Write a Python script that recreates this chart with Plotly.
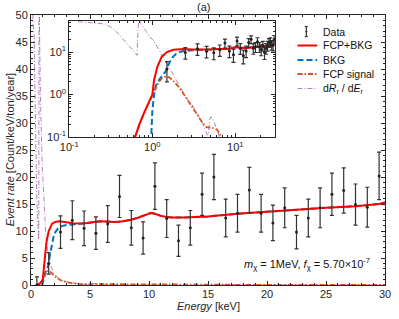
import plotly.graph_objects as go

# ---------------- data ----------------
data_E = [0.5, 1.5, 2.5, 3.5, 4.5, 5.5, 6.5, 7.5, 8.5, 9.5, 10.5, 11.5, 12.5, 13.5, 14.5,
          15.5, 16.5, 17.5, 18.5, 19.5, 20.5, 21.5, 22.5, 23.5, 24.5, 25.5, 26.5, 27.5, 28.5, 29.5]
data_val = [0.0, 4.0, 9.8, 12.0, 10.5, 9.6, 11.3, 16.4, 10.6, 8.7, 18.3, 12.3, 8.2, 10.6, 16.8,
            20.0, 12.4, 13.3, 17.6, 13.3, 11.5, 14.3, 9.8, 12.4, 14.3, 16.8, 17.5, 14.9, 14.4, 20.2]
data_err = [1.5, 2.0, 3.0, 3.6, 3.2, 3.0, 3.4, 3.9, 3.2, 3.0, 4.3, 3.5, 2.9, 3.2, 3.9,
            4.2, 3.5, 3.5, 4.2, 3.5, 3.3, 3.7, 3.1, 3.5, 3.7, 3.9, 4.2, 3.8, 3.7, 4.4]

tot_E = [0.5, 0.6, 0.7, 0.8, 0.9, 1.0, 1.05, 1.15, 1.3, 1.5, 1.8, 2.1, 2.4, 3.0, 3.5, 4.5, 5.0,
         5.75, 6.5, 7.0, 7.5, 8.0, 8.5, 9.0, 9.5, 10.0, 10.2, 10.5, 11.0, 11.5, 12.0, 13.0, 14.0,
         15.0, 17.5, 20.0, 22.5, 25.0, 27.5, 29.0, 29.5, 30.0]
tot_val = [0.03, 0.09, 0.2, 0.38, 0.62, 1.0, 2.2, 4.5, 7.8, 10.0, 11.4, 11.7, 11.8, 11.6, 11.45, 11.4, 11.55,
           11.8, 11.75, 11.65, 11.7, 11.85, 12.1, 12.4, 12.8, 13.25, 13.35, 13.2, 12.8, 12.6, 12.5, 12.5, 12.55,
           12.7, 13.2, 13.6, 14.0, 14.3, 14.6, 14.8, 15.0, 15.3]

bkg_E = [0.9, 0.97, 1.0, 1.05, 1.1, 1.2, 1.3, 1.45, 1.6, 1.75, 1.9, 2.0, 2.3, 2.6, 3.0, 4.0, 5.0,
         6.0, 7.0, 7.5, 8.0, 8.5, 9.0, 9.5, 10.0, 10.2, 10.5, 11.0, 11.5, 12.0, 13.0, 14.0,
         15.0, 17.5, 20.0, 22.5, 25.0, 27.5, 29.0, 29.5, 30.0]
bkg_val = [0.0, 0.1, 0.4, 1.0, 1.6, 2.2, 2.7, 3.5, 5.5, 7.5, 8.8, 9.6, 10.5, 10.9, 11.1, 11.3, 11.5,
           11.8, 11.65, 11.7, 11.85, 12.1, 12.4, 12.8, 13.25, 13.35, 13.2, 12.8, 12.6, 12.5, 12.5, 12.55,
           12.7, 13.2, 13.6, 14.0, 14.3, 14.6, 14.8, 15.0, 15.3]

sig_E = [0.5, 0.6, 0.7, 0.8, 0.9, 1.0, 1.1, 1.2, 1.3, 1.4, 1.5, 1.6, 1.75, 2.0, 2.3, 2.6, 3.0, 3.4,
         4.0, 4.5, 5.0, 5.7, 6.2, 6.8, 7.5, 9.0, 12.0, 20.0, 30.0]
sig_val = [0.03, 0.09, 0.2, 0.38, 0.62, 0.95, 1.5, 2.0, 2.4, 2.6, 2.65, 2.55, 2.2, 1.65, 1.15, 0.8, 0.52, 0.37,
           0.22, 0.17, 0.165, 0.16, 0.14, 0.095, 0.06, 0.035, 0.02, 0.01, 0.006]

dr_E = [0.02, 0.05, 0.08, 0.11, 0.13, 0.17, 0.22, 0.27, 0.32, 0.37, 0.42, 0.48, 0.55, 0.6, 0.655,
        0.67, 0.685, 0.72, 0.8, 0.87, 0.95, 1.05, 1.15, 1.25, 1.37, 1.5, 1.64, 1.8, 1.95, 2.16, 2.6,
        3.1, 3.5, 4.0, 4.4, 4.6, 4.75, 4.9, 5.1, 5.4, 6.0, 6.3, 6.6, 7.0, 8.0, 10.0, 15.0, 20.0, 30.0]
dr_val = [3000, 400, 120, 65, 52, 49, 48, 46, 38, 30, 23, 17, 12.5, 10.2, 8.4,
          30, 60, 48, 35, 27, 22, 18, 13, 9.5, 7.0, 5.3, 3.9, 2.9, 2.2, 1.6, 0.8,
          0.53, 0.36, 0.22, 0.14, 0.11, 0.12, 0.25, 0.3, 0.26, 0.15, 0.11, 0.08, 0.06, 0.04, 0.02, 0.01, 0.008, 0.005]

inset_tickvals = [0.1, 1, 10]
inset_ticktext = ["10<sup>-1</sup>", "10<sup>0</sup>", "10<sup>1</sup>"]

# ---------------- style ----------------
RED = "#FF0000"
BLUE = "#0072BD"
ORANGE = "#D95319"
PURPLE = "rgba(126,47,142,0.6)"
AX = "#262626"
FONT = "Liberation Sans, Arial, sans-serif"

W, H = 399, 319
L, R, T, B = 31, 8, 15, 34
PW, PH = W - L - R, H - T - B


def px(x):  # page pixel -> paper
    return (x - L) / PW


def py(y):  # page pixel -> paper
    return (H - B - y) / PH


fig = go.Figure()


def add_curves(xa, ya):
    fig.add_trace(go.Scatter(x=dr_E, y=dr_val, mode="lines", xaxis=xa, yaxis=ya, showlegend=False,
                             line=dict(color=PURPLE, width=1, dash="5px,2px,1px,2px")))
    fig.add_trace(go.Scatter(x=bkg_E, y=bkg_val, mode="lines", xaxis=xa, yaxis=ya, showlegend=False,
                             line=dict(color=BLUE, width=2, dash="6px,3px")))
    fig.add_trace(go.Scatter(x=sig_E, y=sig_val, mode="lines", xaxis=xa, yaxis=ya, showlegend=False,
                             line=dict(color=ORANGE, width=1.8, dash="5px,2px,1.5px,2px")))
    fig.add_trace(go.Scatter(x=tot_E, y=tot_val, mode="lines", xaxis=xa, yaxis=ya, showlegend=False,
                             line=dict(color=RED, width=2)))
    fig.add_trace(go.Scatter(x=data_E, y=data_val, mode="markers", xaxis=xa, yaxis=ya, showlegend=False,
                             marker=dict(color="#222222", size=3),
                             error_y=dict(type="data", array=data_err, color="#333333",
                                          thickness=1.2, width=2)))


add_curves("x", "y")
add_curves("x2", "y2")

axis_common = dict(showline=True, linecolor=AX, linewidth=1, mirror="ticks", ticks="inside",
                   tickcolor=AX, showgrid=False, zeroline=False,
                   tickfont=dict(family=FONT, size=11, color=AX))

fig.update_layout(
    width=W, height=H,
    margin=dict(l=L, r=R, t=T, b=B),
    paper_bgcolor="white", plot_bgcolor="white",
    showlegend=False,
    xaxis=dict(domain=[0, 1], range=[0, 30], tickvals=[0, 5, 10, 15, 20, 25, 30], ticklen=4,
               ticklabelstandoff=-1,
               minor=dict(ticks="inside", ticklen=2, dtick=1, tickcolor=AX), **axis_common),
    yaxis=dict(domain=[0, 1], range=[0, 50], tickvals=list(range(0, 51, 5)), ticklen=4,
               minor=dict(ticks="inside", ticklen=2, dtick=1, tickcolor=AX), **axis_common),
    xaxis2=dict(type="log", domain=[px(70), px(279)], range=[-1, 1.477], anchor="y2",
                tickvals=inset_tickvals, ticktext=inset_ticktext, ticklen=4,
                minor=dict(ticks="inside", ticklen=2, tickcolor=AX,
                           tickvals=[0.2, 0.3, 0.4, 0.5, 0.6, 0.7, 0.8, 0.9, 2, 3, 4, 5, 6, 7, 8, 9, 20, 30]),
                **axis_common),
    yaxis2=dict(type="log", domain=[py(137), py(21)], range=[-1, 1.733], anchor="x2",
                tickvals=inset_tickvals, ticktext=inset_ticktext, ticklen=4,
                minor=dict(ticks="inside", ticklen=2, tickcolor=AX,
                           tickvals=[0.2, 0.3, 0.4, 0.5, 0.6, 0.7, 0.8, 0.9, 2, 3, 4, 5, 6, 7, 8, 9, 20, 30, 40, 50]),
                **axis_common),
)

ann = []
ann.append(dict(text="(a)", x=px(206), y=py(7), xref="paper", yref="paper", showarrow=False,
                xanchor="center", yanchor="middle", font=dict(family=FONT, size=11, color=AX)))
ann.append(dict(text="<i>Event rate</i> [Count/keV/ton/year]", x=px(10), y=0.5, xref="paper", yref="paper",
                showarrow=False, textangle=-90, xanchor="center", yanchor="middle",
                font=dict(family=FONT, size=11, color=AX)))
ann.append(dict(text="<i>Energy</i> [keV]", x=px(211), y=py(305.5), xref="paper", yref="paper",
                showarrow=False, xanchor="center", yanchor="middle",
                font=dict(family=FONT, size=11, color=AX)))
ann.append(dict(text="<i>m</i><sub>χ</sub> = 1MeV, <i>f</i><sub>χ</sub> = 5.70×10<sup>-7</sup>",
                x=px(378), y=py(264), xref="paper", yref="paper", showarrow=False,
                xanchor="right", yanchor="middle", font=dict(family=FONT, size=11, color="#111111")))

legend_rows = [31.5, 45.5, 60, 74, 88.5]
legend_labels = ["Data", "FCP+BKG", "BKG", "FCP signal", "d<i>R</i><sub>r</sub> / d<i>E</i><sub>r</sub>"]
for yy, lab in zip(legend_rows, legend_labels):
    ann.append(dict(text=lab, x=px(326), y=py(yy), xref="paper", yref="paper", showarrow=False,
                    xanchor="left", yanchor="middle", font=dict(family=FONT, size=10.5, color="#111111")))
fig.update_layout(annotations=ann)

shapes = []
line_styles = [
    (RED, 2, "solid"),
    (BLUE, 2, "6px,3px"),
    (ORANGE, 1.8, "5px,2px,1.5px,2px"),
    (PURPLE, 1, "5px,2px,1px,2px"),
]
for yy, (c, w, d) in zip(legend_rows[1:], line_styles):
    shapes.append(dict(type="line", xref="paper", yref="paper", x0=px(302), x1=px(322), y0=py(yy), y1=py(yy),
                       line=dict(color=c, width=w, dash=d)))
yc = legend_rows[0]
shapes.append(dict(type="line", xref="paper", yref="paper", x0=px(311), x1=px(311), y0=py(yc - 5), y1=py(yc + 5),
                   line=dict(color="#333333", width=1.2)))
for dy in (-5, 5):
    shapes.append(dict(type="line", xref="paper", yref="paper", x0=px(309.5), x1=px(312.5), y0=py(yc + dy),
                       y1=py(yc + dy), line=dict(color="#333333", width=1.2)))
shapes.append(dict(type="circle", xref="paper", yref="paper", x0=px(310), x1=px(312), y0=py(yc + 1), y1=py(yc - 1),
                   fillcolor="#222222", line=dict(color="#222222", width=0)))
fig.update_layout(shapes=shapes)

fig.write_html("out.html", config={"displayModeBar": False, "staticPlot": True},
               post_script="document.body.style.margin='0';document.body.style.overflow='hidden';")
